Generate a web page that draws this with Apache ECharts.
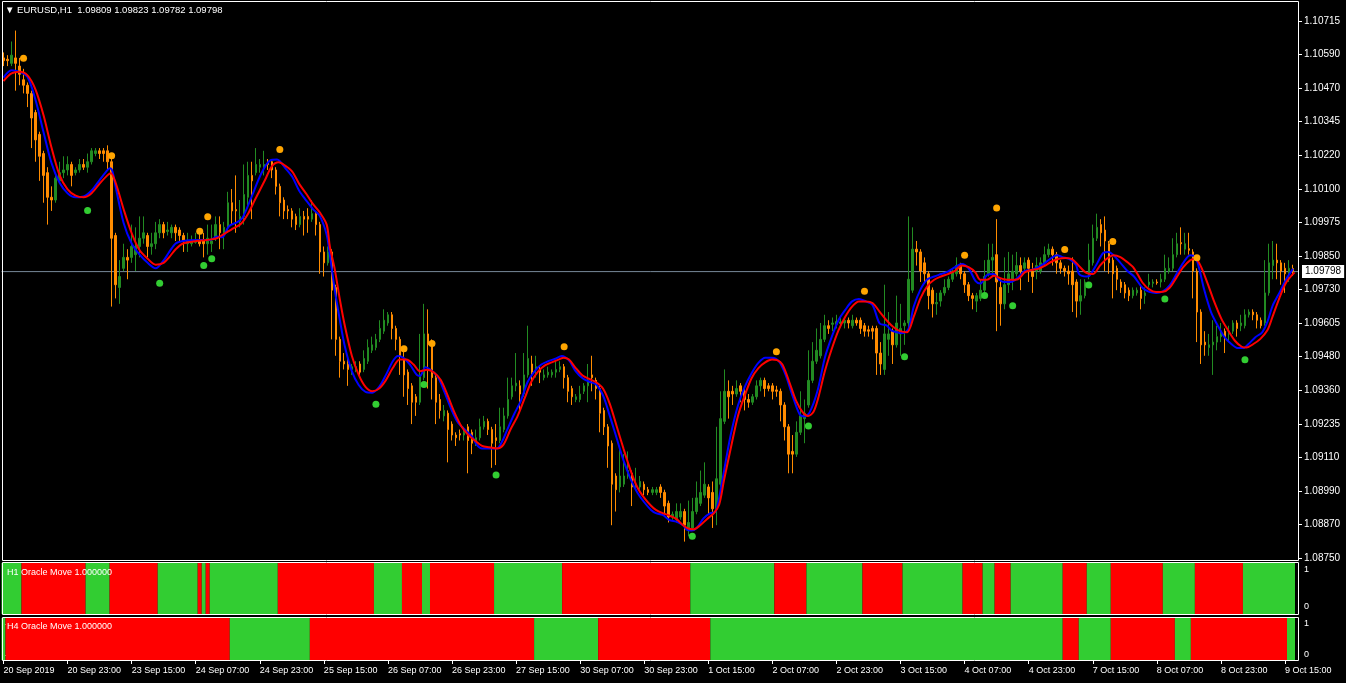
<!DOCTYPE html>
<html><head><meta charset="utf-8">
<script src="https://cdn.jsdelivr.net/npm/echarts@6/dist/echarts.min.js"></script>
<style>html,body{margin:0;padding:0;background:#000;}#c{width:1346px;height:683px;}</style>
</head><body><div id="c"></div>
<script>
const symbolName = 'EURUSD,H1';
const indicatorH1 = 'H1 Oracle Move 1.000000';
const indicatorH4 = 'H4 Oracle Move 1.000000';
const timeLabels = ['20 Sep 2019','20 Sep 23:00','23 Sep 15:00','24 Sep 07:00','24 Sep 23:00','25 Sep 15:00','26 Sep 07:00','26 Sep 23:00','27 Sep 15:00','30 Sep 07:00','30 Sep 23:00','1 Oct 15:00','2 Oct 07:00','2 Oct 23:00','3 Oct 15:00','4 Oct 07:00','4 Oct 23:00','7 Oct 15:00','8 Oct 07:00','8 Oct 23:00','9 Oct 15:00'];
const priceTickLabels = ['1.08750','1.08870','1.08990','1.09110','1.09235','1.09360','1.09480','1.09605','1.09730','1.09850','1.09975','1.10100','1.10220','1.10345','1.10470','1.10590','1.10715'];
const priceMin = 1.08750, priceMax = 1.10715;
const oscTickLabels = ['0','1'];
// [open, high, low, close] per H1 bar
const candles = [
[1.1058,1.1060,1.1055,1.1057],[1.10575,1.1059,1.1055,1.1057],[1.1056,1.1064,1.1055,1.1059],[1.1058,1.1068,1.1046,1.1056],[1.1055,1.1058,1.1048,1.1052],
[1.1050,1.1054,1.1045,1.1048],[1.1048,1.1049,1.1040,1.1045],[1.1045,1.1046,1.1025,1.1036],[1.1038,1.1039,1.1020,1.1028],[1.1030,1.1031,1.1013,1.1022],
[1.1023,1.1024,1.1005,1.1015],[1.1016,1.1018,1.0997,1.1007],[1.1007,1.1011,1.1002,1.1006],[1.1006,1.1016,1.1005,1.1014],[1.1013,1.1020,1.1012,1.1016],
[1.1016,1.1022,1.1014,1.1017],[1.1017,1.1022,1.1015,1.1019],[1.1019,1.1020,1.1011,1.1015],[1.1016,1.1018,1.1015,1.1017],[1.1017,1.1021,1.1016,1.1019],
[1.1019,1.1021,1.1017,1.1018],[1.1018,1.1023,1.1016,1.1020],[1.1020,1.1025,1.1019,1.1024],[1.1023,1.1025,1.1022,1.1024],[1.1024,1.1025,1.1021,1.1023],
[1.1024,1.1025,1.1020,1.1023],[1.1024,1.1026,1.1017,1.1020],[1.1020,1.1021,1.0967,1.0992],[1.0993,1.0994,1.0970,1.0975],[1.0974,1.0984,1.0968,1.0978],
[1.0981,1.0990,1.0980,1.0985],[1.0985,1.0988,1.0977,1.0984],[1.0985,1.0997,1.0983,1.0989],[1.0986,1.0996,1.0980,1.0989],[1.0989,1.1000,1.0985,1.0992],
[1.0992,1.1000,1.0990,1.0994],[1.0993,1.0994,1.0985,1.0989],[1.0989,1.0994,1.0986,1.0990],[1.0990,1.0998,1.0988,1.0994],[1.0994,1.0999,1.0992,1.0997],
[1.0997,1.0998,1.0992,1.0994],[1.09945,1.0998,1.0993,1.0995],[1.0994,1.0997,1.0992,1.0996],[1.0996,1.0997,1.0991,1.0994],[1.0995,1.0996,1.0991,1.0993],
[1.0993,1.0994,1.0987,1.0991],[1.0990,1.0994,1.0987,1.0991],[1.0990,1.0993,1.0989,1.0991],[1.09905,1.0994,1.0990,1.0991],[1.0991,1.0994,1.0989,1.0990],
[1.0991,1.0994,1.0985,1.0990],[1.0990,1.0997,1.0986,1.0992],[1.0990,1.0997,1.0987,1.0991],[1.0992,1.1000,1.0991,1.0997],[1.0997,1.1000,1.0988,1.0994],
[1.0994,1.0998,1.0988,1.0996],[1.0996,1.1009,1.0994,1.1005],[1.1005,1.1010,1.0997,1.1002],[1.10025,1.1015,1.0994,1.1002],[1.0998,1.1006,1.0996,1.1000],
[1.1000,1.1019,1.0997,1.1008],[1.1007,1.1020,1.1003,1.1015],[1.1015,1.1020,1.0999,1.1013],[1.1016,1.1025,1.1015,1.1019],[1.1018,1.1021,1.1016,1.1019],
[1.1018,1.1024,1.1015,1.1019],[1.1020,1.1021,1.1017,1.1019],[1.1020,1.1021,1.1014,1.1017],[1.1017,1.1018,1.1008,1.1011],[1.1011,1.1012,1.1000,1.1005],
[1.1006,1.1007,1.0999,1.1002],[1.10025,1.1004,1.0999,1.1002],[1.1002,1.1003,1.0996,1.0999],[1.1000,1.1001,1.0995,1.0997],[1.0997,1.1003,1.0996,1.1000],
[1.1000,1.1002,1.0993,1.0999],[1.1000,1.1003,1.0994,1.0999],[1.0999,1.1006,1.0998,1.1001],[1.1001,1.1002,1.0993,1.0997],[1.0997,1.0998,1.0979,1.0987],
[1.0987,1.0989,1.0978,1.0983],[1.0983,1.0989,1.0982,1.0987],[1.0987,1.0988,1.0955,1.0973],[1.0974,1.0975,1.0949,1.0955],[1.0955,1.0956,1.0941,1.0947],
[1.0947,1.0950,1.0944,1.0946],[1.0946,1.0949,1.0938,1.0944],[1.0944,1.0946,1.0942,1.0945],[1.0944,1.0947,1.0943,1.0945],[1.0946,1.0947,1.0942,1.0943],
[1.0944,1.0951,1.0943,1.0948],[1.0947,1.0955,1.0946,1.0952],[1.0951,1.0956,1.0950,1.0953],[1.0952,1.0957,1.0951,1.0955],[1.0955,1.0962,1.0954,1.0959],
[1.0958,1.0966,1.0957,1.0962],[1.0961,1.0965,1.0960,1.0964],[1.0964,1.0965,1.0955,1.0959],[1.0959,1.0960,1.0951,1.0955],[1.0955,1.0956,1.0942,1.0949],
[1.0948,1.0952,1.0934,1.0942],[1.0943,1.0944,1.0931,1.0937],[1.0938,1.0939,1.0924,1.0932],[1.0934,1.0935,1.0927,1.0932],[1.0932,1.0957,1.0931,1.0942],
[1.0941,1.0968,1.0940,1.0957],[1.0957,1.0966,1.0937,1.0953],[1.0954,1.0955,1.0933,1.0941],[1.0941,1.0942,1.0924,1.0932],[1.0933,1.0935,1.0926,1.0929],
[1.0927,1.0931,1.0925,1.0929],[1.0928,1.0929,1.0910,1.0922],[1.0924,1.0925,1.0918,1.0920],[1.0920,1.0921,1.0916,1.0919],[1.09205,1.0922,1.0918,1.0920],
[1.0920,1.0923,1.0918,1.0921],[1.0923,1.0924,1.0906,1.0918],[1.0921,1.0922,1.0913,1.0917],[1.0917,1.0922,1.0916,1.0919],[1.0919,1.0926,1.0918,1.0923],
[1.0923,1.0927,1.0922,1.0925],[1.0925,1.0926,1.0920,1.0922],[1.0922,1.0923,1.0908,1.0917],[1.0919,1.0924,1.0909,1.0918],[1.0918,1.0930,1.0917,1.0923],
[1.0922,1.0930,1.0921,1.0927],[1.0927,1.0941,1.0926,1.0933],[1.0934,1.0941,1.0933,1.0938],[1.0938,1.0950,1.0936,1.0939],[1.0938,1.0940,1.0929,1.0935],
[1.0935,1.0950,1.0934,1.0942],[1.0942,1.0960,1.0941,1.0948],[1.0946,1.0949,1.0938,1.0943],[1.0944,1.0949,1.0941,1.0945],[1.0944,1.0945,1.0939,1.0943],
[1.0941,1.0944,1.0940,1.0942],[1.0942,1.0945,1.0941,1.0943],[1.0942,1.0944,1.0941,1.0943],[1.0943,1.0947,1.0941,1.0944],[1.0944,1.0947,1.0943,1.0945],
[1.0945,1.0946,1.0937,1.0941],[1.0941,1.0942,1.0932,1.0936],[1.0937,1.0938,1.0931,1.0934],[1.0933,1.0935,1.0932,1.0934],[1.0933,1.0938,1.0932,1.0935],
[1.0936,1.0939,1.0935,1.0938],[1.0938,1.0946,1.0932,1.0940],[1.0942,1.0949,1.0936,1.0941],[1.0940,1.0941,1.0933,1.0937],[1.0937,1.0938,1.0921,1.0928],
[1.0929,1.0930,1.0920,1.0923],[1.0923,1.0924,1.0908,1.0916],[1.0917,1.0918,1.0887,1.0902],[1.0905,1.0906,1.0892,1.0900],[1.0901,1.0915,1.0899,1.0905],
[1.0902,1.0913,1.0901,1.0905],[1.0905,1.0914,1.0904,1.0907],[1.0906,1.0907,1.0894,1.0901],[1.0901,1.0908,1.0900,1.0902],[1.0901,1.0905,1.0900,1.0903],
[1.0902,1.0903,1.0898,1.0900],[1.0900,1.0901,1.0898,1.0899],[1.0899,1.0901,1.0898,1.0900],[1.0899,1.0901,1.0898,1.0900],[1.0901,1.0902,1.0897,1.0899],
[1.0899,1.0900,1.0891,1.0894],[1.0895,1.0896,1.0888,1.0890],[1.0890,1.0892,1.0889,1.0891],[1.0889,1.0895,1.0888,1.0892],[1.0890,1.0895,1.0889,1.0892],
[1.0892,1.0893,1.0881,1.0887],[1.0885,1.0896,1.0883,1.0888],[1.0886,1.0897,1.0885,1.0892],[1.0892,1.0903,1.0891,1.0897],[1.0895,1.0907,1.0894,1.0899],
[1.0898,1.0910,1.0897,1.0902],[1.0901,1.0902,1.0891,1.0897],[1.0899,1.0903,1.0886,1.0893],[1.0893,1.0923,1.0887,1.0904],[1.0902,1.0936,1.0901,1.0926],
[1.0925,1.0944,1.0924,1.0936],[1.0936,1.0940,1.0926,1.0934],[1.0936,1.0938,1.0931,1.0935],[1.0935,1.0940,1.0934,1.0937],[1.0938,1.0939,1.0932,1.0936],
[1.0936,1.0937,1.0929,1.0933],[1.0933,1.0935,1.0930,1.0932],[1.0932,1.0935,1.0931,1.0934],[1.0934,1.0940,1.0933,1.0938],[1.0938,1.0941,1.0936,1.0940],
[1.0940,1.0941,1.0934,1.0937],[1.0938,1.0939,1.0936,1.0937],[1.0938,1.0939,1.0933,1.0936],[1.09365,1.0938,1.0934,1.0936],[1.0936,1.0937,1.0925,1.0931],
[1.0931,1.0932,1.0918,1.0923],[1.0923,1.0924,1.0906,1.0913],[1.0914,1.0920,1.0906,1.0913],[1.0913,1.0925,1.0912,1.0921],[1.0921,1.0936,1.0920,1.0927],
[1.0926,1.0933,1.0917,1.0928],[1.0931,1.0951,1.0930,1.0940],[1.0940,1.0954,1.0939,1.0947],[1.0947,1.0959,1.0946,1.0951],[1.0949,1.0961,1.0948,1.0955],
[1.0955,1.0964,1.0954,1.0960],[1.0960,1.0962,1.0957,1.0959],[1.09605,1.0963,1.0958,1.0961],[1.09605,1.0964,1.0959,1.09615],[1.09608,1.0963,1.0960,1.09614],
[1.0961,1.0963,1.0959,1.0962],[1.0962,1.0963,1.0959,1.0961],[1.0960,1.0964,1.0959,1.0962],[1.0962,1.0963,1.0960,1.0961],[1.0962,1.0963,1.0957,1.0959],
[1.0960,1.0961,1.0956,1.0958],[1.09585,1.0960,1.0956,1.0958],[1.0959,1.0960,1.0955,1.0958],[1.0959,1.0960,1.0942,1.0950],[1.0950,1.0954,1.0942,1.0946],
[1.0944,1.0975,1.0942,1.0957],[1.0955,1.0965,1.0949,1.0957],[1.0958,1.0959,1.0946,1.0953],[1.0953,1.0971,1.0952,1.0961],[1.0957,1.0968,1.0949,1.0959],
[1.0960,1.0962,1.0953,1.0961],[1.0961,1.1000,1.0959,1.0977],[1.0973,1.0996,1.0972,1.0988],[1.0988,1.0991,1.0982,1.0987],[1.0987,1.0988,1.0976,1.0980],
[1.0983,1.0985,1.0976,1.0979],[1.0979,1.0980,1.0966,1.0971],[1.0973,1.0974,1.0963,1.0968],[1.0968,1.0972,1.0964,1.09685],[1.0969,1.0973,1.0967,1.0972],
[1.0972,1.0977,1.0971,1.0974],[1.0974,1.0978,1.0973,1.0977],[1.0977,1.0981,1.0976,1.0980],[1.0979,1.0985,1.0978,1.0982],[1.0982,1.0983,1.0977,1.0979],
[1.0979,1.0980,1.0972,1.0975],[1.0975,1.0976,1.0969,1.0971],[1.0971,1.0972,1.0966,1.0970],[1.0969,1.0972,1.0965,1.0971],[1.0970,1.0977,1.0969,1.0973],
[1.0973,1.0984,1.0972,1.0978],[1.0979,1.0990,1.0978,1.0984],[1.0984,1.0990,1.0978,1.0985],[1.0986,1.0999,1.0958,1.0976],[1.0974,1.0977,1.0960,1.0968],
[1.0968,1.0985,1.0966,1.0975],[1.0975,1.0987,1.0972,1.0979],[1.0977,1.0986,1.0973,1.0980],[1.0979,1.0987,1.0978,1.0982],[1.0982,1.0985,1.0973,1.0980],
[1.0981,1.0985,1.0980,1.0983],[1.0984,1.0985,1.0976,1.0981],[1.0980,1.0983,1.0972,1.0978],[1.0980,1.0985,1.0977,1.0982],[1.0980,1.0985,1.0979,1.0983],
[1.0983,1.0989,1.0982,1.0986],[1.0986,1.0990,1.0985,1.0988],[1.0988,1.0989,1.0982,1.0986],[1.0986,1.0987,1.0979,1.0983],[1.0983,1.0984,1.0979,1.0981],
[1.0981,1.0982,1.0978,1.0980],[1.0980,1.0982,1.0975,1.0979],[1.0980,1.0985,1.0965,1.0975],[1.0976,1.0977,1.0963,1.0969],[1.0969,1.0977,1.0964,1.0971],
[1.0971,1.0977,1.0970,1.0976],[1.0978,1.0990,1.0977,1.0984],[1.0983,1.0997,1.0982,1.0992],[1.0992,1.1001,1.0991,1.0996],[1.0997,1.0999,1.0989,1.0994],
[1.0995,1.1000,1.0980,1.0991],[1.0990,1.0991,1.0979,1.0983],[1.0984,1.0985,1.0970,1.0979],[1.0981,1.0982,1.0973,1.0977],[1.0976,1.0977,1.0972,1.0974],
[1.0975,1.0976,1.0970,1.0972],[1.0973,1.0974,1.0969,1.0971],[1.0971,1.0974,1.0970,1.0973],[1.0972,1.0974,1.0971,1.0973],[1.0973,1.0975,1.0966,1.0970],
[1.0971,1.0974,1.0968,1.0972],[1.0975,1.0979,1.0974,1.0976],[1.09755,1.0977,1.0974,1.0976],[1.0976,1.0977,1.0975,1.09757],[1.0976,1.0979,1.0974,1.0977],
[1.0977,1.0986,1.0976,1.0981],[1.0980,1.0985,1.0979,1.0981],[1.0981,1.0992,1.0980,1.0986],[1.0986,1.0994,1.0985,1.0990],[1.09904,1.0996,1.0986,1.0990],
[1.0988,1.0994,1.0986,1.0990],[1.09882,1.0994,1.0986,1.09876],[1.0987,1.0988,1.0970,1.0980],[1.0980,1.0981,1.0954,1.0965],[1.0965,1.0966,1.0946,1.0953],
[1.0954,1.0958,1.0949,1.0953],[1.0952,1.0957,1.0949,1.0953],[1.0953,1.0962,1.0942,1.0954],[1.0954,1.0960,1.0951,1.0956],[1.0956,1.0961,1.0954,1.0958],
[1.0958,1.0959,1.0950,1.0956],[1.0957,1.0960,1.0954,1.0958],[1.0958,1.0962,1.0957,1.0961],[1.0961,1.0962,1.0956,1.0959],[1.0960,1.0964,1.0958,1.0961],
[1.0960,1.0966,1.0959,1.0964],[1.0964,1.0966,1.0963,1.0965],[1.0965,1.0966,1.0962,1.0964],[1.0964,1.0965,1.0959,1.0962],[1.0962,1.0963,1.0959,1.0960],
[1.0961,1.0984,1.0960,1.0972],[1.0972,1.0990,1.0971,1.0983],[1.0982,1.0991,1.0977,1.0984],[1.0984,1.0990,1.0977,1.0983],[1.0983,1.0984,1.0975,1.0980],
[1.0981,1.0983,1.0972,1.0979],[1.0979,1.0984,1.0976,1.0981],[1.09809,1.09823,1.09782,1.09798]
];
const blueMA = [[0,1.10508],[2,1.10535],[4,1.10529],[6,1.1051],[8,1.10426],[10,1.10308],[12,1.10195],[14,1.10123],[16,1.10085],[18,1.1007],[20,1.10073],[22,1.10095],[24,1.10133],[26,1.1017],[26.6,1.10176],[27.2,1.10165],[28,1.10108],[30,1.09976],[32,1.09901],[34,1.0986],[36,1.0983],[38,1.0981],[40,1.09839],[41.4,1.0987],[43,1.09901],[44.8,1.0991],[48.2,1.09914],[51.6,1.09914],[53.3,1.09926],[54.6,1.09924],[56.3,1.09964],[58.5,1.0998],[59.7,1.09995],[61.9,1.1007],[64.4,1.10158],[66.6,1.10205],[68.3,1.10208],[70.4,1.10176],[72.1,1.10145],[73.8,1.10095],[75.6,1.10058],[77.3,1.10026],[79,1.10001],[80.7,1.09933],[81.5,1.09858],[82.7,1.09733],[84,1.0962],[85.3,1.0952],[87,1.09433],[88.7,1.09383],[90.4,1.09358],[92.1,1.09355],[93.8,1.09376],[95.5,1.0942],[97.2,1.0947],[98.5,1.09489],[99.8,1.09483],[101.5,1.09458],[103.2,1.0942],[104,1.09416],[105.4,1.09448],[106.6,1.09439],[108.4,1.09414],[110.1,1.09358],[111.8,1.09295],[113.5,1.09245],[115.2,1.0922],[117,1.09195],[118.2,1.09164],[119.5,1.09151],[121.2,1.09151],[123.2,1.09151],[124.5,1.09176],[125.8,1.0922],[127.5,1.09276],[129.2,1.09326],[130.9,1.09395],[132.6,1.09433],[134.3,1.09458],[136,1.0947],[137.8,1.09479],[139.4,1.09489],[141.2,1.09473],[142.9,1.09433],[144.6,1.09408],[146.3,1.09395],[148,1.09385],[149.7,1.09345],[151.4,1.0927],[153.1,1.09189],[154.8,1.09108],[156.6,1.09039],[158.3,1.08989],[160,1.08954],[161.7,1.08926],[162.9,1.08914],[164.6,1.08908],[166.3,1.08889],[168,1.08883],[169.7,1.0887],[170.5,1.08855],[171.8,1.08851],[173.1,1.0886],[174.8,1.08895],[176.5,1.08914],[177.8,1.0892],[179.1,1.09001],[180.4,1.09108],[181.7,1.09208],[183.4,1.09308],[185.1,1.09376],[186.8,1.09426],[188.5,1.09464],[190.2,1.09483],[191.9,1.09483],[193.6,1.0947],[195.3,1.0942],[197,1.09345],[198.8,1.09276],[200,1.09268],[201.3,1.09283],[203.2,1.09358],[205.1,1.09483],[206.8,1.09558],[208.5,1.0962],[210.2,1.09658],[211.9,1.09689],[213.6,1.09698],[215.3,1.09689],[217,1.09676],[218.8,1.09608],[220.5,1.09601],[221.7,1.09583],[223,1.09576],[224.7,1.09573],[226,1.09589],[227.3,1.0967],[229,1.09733],[230.7,1.0977],[232.4,1.0978],[234.1,1.09789],[235.8,1.09798],[237.6,1.09814],[239.3,1.09826],[241,1.0981],[242.7,1.09764],[243.9,1.09754],[245.6,1.09785],[247.3,1.09789],[248.6,1.09768],[249.8,1.0976],[251.5,1.0976],[253.3,1.09776],[255,1.09801],[256.7,1.09804],[258.4,1.09814],[260.1,1.0983],[261.8,1.09849],[263.1,1.09858],[264.4,1.09851],[266.1,1.09845],[267.8,1.09823],[268.6,1.09789],[270.4,1.0978],[271.2,1.09783],[272.9,1.09823],[274.6,1.09866],[275.9,1.0987],[277.2,1.09858],[278.9,1.0983],[280.6,1.09801],[282.3,1.0978],[284.4,1.09739],[286.1,1.09724],[287.8,1.0972],[289.5,1.09726],[291.2,1.09748],[292.9,1.09789],[294.6,1.0983],[296.3,1.09858],[297.6,1.09851],[298.5,1.09814],[299.8,1.09733],[301.5,1.09651],[303.2,1.09601],[304.9,1.09558],[306.6,1.09533],[308.3,1.09518],[309.6,1.09518],[310.9,1.09533],[312.6,1.09558],[314.3,1.09576],[315.6,1.09614],[316.9,1.09673],[318.6,1.0972],[320.3,1.0977],[322,1.09808]];
const redMA = [[0,1.10495],[2,1.10523],[4,1.10529],[6,1.10516],[8,1.10464],[10,1.1037],[12,1.10251],[14,1.10151],[16,1.10099],[18,1.10076],[20,1.1007],[22,1.10085],[24,1.1012],[26,1.10151],[26.8,1.10158],[28,1.10123],[30,1.10026],[32,1.09939],[34,1.09876],[36,1.09845],[38,1.09823],[40,1.0983],[41.4,1.09851],[43,1.0988],[44.8,1.09901],[48.2,1.0991],[50.8,1.09914],[53.3,1.0992],[55,1.09935],[56.8,1.09951],[59.3,1.09973],[61,1.10008],[62.7,1.10058],[65.3,1.10133],[67,1.10183],[68.7,1.10198],[70.4,1.10185],[72.1,1.10164],[73.8,1.1012],[75.6,1.10083],[77.3,1.10045],[79,1.10014],[80.7,1.0997],[81.5,1.09889],[82.7,1.09808],[84,1.09695],[85.3,1.09595],[87,1.09489],[88.7,1.0942],[90.4,1.09376],[92.1,1.0936],[93.8,1.0937],[95.5,1.09401],[97.2,1.09445],[98.9,1.09476],[100.6,1.09476],[102.4,1.09458],[104,1.09433],[105.8,1.09439],[107.5,1.09429],[109.2,1.09401],[110.9,1.09345],[112.6,1.09283],[114.3,1.09233],[116,1.09201],[117.8,1.09179],[119.5,1.0916],[121.2,1.09155],[123.2,1.09151],[124.8,1.09164],[126.6,1.0922],[128.4,1.0927],[130.1,1.09333],[131.8,1.09395],[133.5,1.09433],[135.2,1.09455],[136.9,1.09466],[138.6,1.09476],[139.9,1.09483],[141.2,1.09476],[142.9,1.09445],[144.6,1.09418],[146.3,1.09405],[148,1.09393],[149.7,1.0937],[151.4,1.09314],[153.1,1.09233],[154.8,1.09151],[156.6,1.0907],[158.3,1.09008],[160,1.0897],[161.7,1.08941],[162.9,1.08926],[164.6,1.08914],[166.3,1.08905],[168,1.08893],[169.7,1.0887],[171,1.08858],[172.3,1.08855],[174,1.0887],[175.7,1.08893],[177.4,1.08914],[178.7,1.08945],[179.9,1.09033],[181.7,1.09158],[183.4,1.0927],[185.1,1.09345],[186.8,1.09408],[188.5,1.09445],[190.2,1.09466],[191.9,1.09476],[193.2,1.09474],[194.5,1.09458],[196.2,1.09395],[197.9,1.09326],[199.6,1.09283],[200.9,1.0927],[202.2,1.09283],[203.4,1.09333],[205.1,1.09433],[206.8,1.09514],[208.5,1.09583],[210.2,1.09633],[211.9,1.0967],[213.6,1.09689],[215.3,1.09689],[217,1.09683],[218.8,1.09651],[220.5,1.0962],[222.2,1.09595],[223.9,1.0958],[225.6,1.09576],[227.3,1.09633],[229,1.09701],[230.7,1.09745],[232.4,1.09768],[234.1,1.0978],[235.8,1.09789],[237.6,1.09801],[239.3,1.0982],[241,1.09814],[242.7,1.09795],[243.9,1.09768],[245.6,1.09768],[247.3,1.09783],[248.6,1.09776],[249.8,1.0977],[251.5,1.09768],[253.3,1.0977],[255,1.09795],[256.7,1.09804],[258.4,1.09808],[260.1,1.0982],[261.8,1.09835],[263.5,1.09845],[265.2,1.09848],[266.9,1.09843],[268.6,1.09818],[270.4,1.09793],[272.1,1.09789],[273.8,1.0982],[275.5,1.09845],[277.2,1.09858],[278.9,1.09851],[280.6,1.09833],[282.3,1.0981],[284.4,1.09758],[286.1,1.09733],[287.8,1.09723],[289.5,1.09724],[291.2,1.09739],[292.9,1.09776],[294.6,1.09814],[296.3,1.09839],[297.6,1.09845],[298.9,1.0982],[300.6,1.09758],[302.3,1.09689],[304.1,1.09626],[305.8,1.09583],[307.5,1.09545],[309.2,1.09523],[310.4,1.0952],[312.1,1.09533],[313.8,1.09551],[315.6,1.09583],[316.9,1.09633],[318.6,1.09701],[320.3,1.09758],[322.4,1.09795]];
const sellDots = [[5,1.10579],[27,1.10222],[49,1.09946],[51,1.09999],[69,1.10245],[100,1.09516],[107,1.09535],[140,1.09523],[193,1.09505],[215,1.09726],[240,1.09858],[248,1.10031],[265,1.09879],[277,1.09908],[298,1.09849]];
const buyDots = [[21,1.10022],[39,1.09755],[50,1.0982],[52,1.09845],[93,1.09313],[105,1.09385],[123,1.09054],[172,1.0883],[201,1.09233],[225,1.09486],[245,1.09711],[252,1.09673],[271,1.09749],[290,1.09698],[310,1.09475]];
// [firstBar, lastBar, state(1 = up/green, 0 = down/red)]
const h1Runs = [[0,4,1],[5,20,0],[21,26,1],[27,38,0],[39,48,1],[49,49,0],[50,50,1],[51,51,0],[52,68,1],[69,92,0],[93,99,1],[100,104,0],[105,106,1],[107,122,0],[123,139,1],[140,171,0],[172,192,1],[193,200,0],[201,214,1],[215,224,0],[225,239,1],[240,244,0],[245,247,1],[248,251,0],[252,264,1],[265,270,0],[271,276,1],[277,289,0],[290,297,1],[298,309,0],[310,322,1]];
const h4Runs = [[0,0,1],[1,56,0],[57,76,1],[77,132,0],[133,148,1],[149,176,0],[177,264,1],[265,268,0],[269,276,1],[277,292,0],[293,296,1],[297,320,0],[321,322,1]];

const SLOTS = 324;           // bar slots incl. small right shift
const FONT = "'Liberation Sans', 'DejaVu Sans', sans-serif";
const BULL = '#228B22', BEAR = '#FF8C00';
const OM_GREEN = '#32CD32', OM_RED = '#FF0000';
const last = candles[candles.length - 1];
const lastClose = last[3];

const slotCats = Array.from({length: SLOTS}, (_, i) => String(i));
const timeCats = Array.from({length: SLOTS}, (_, i) => (i % 16 === 0 && timeLabels[i / 16]) ? timeLabels[i / 16] : '');
const every16 = (idx) => idx % 16 === 0 && !!timeLabels[idx / 16];

function runRender(params, api) {
  const s = api.value(0), e = api.value(1), st = api.value(2);
  const a = api.coord([s - 0.5, 1]);
  const b = api.coord([e + 0.5, 0]);
  return {type: 'rect', shape: {x: a[0], y: a[1], width: b[0] - a[0], height: b[1] - a[1]},
          style: {fill: st ? OM_GREEN : OM_RED}};
}
const GL = 1.5, GR = 47;
const txt = (size) => ({color: '#fff', fontSize: size, fontWeight: 'normal', fontFamily: FONT});
const hidX = (g, pos) => ({gridIndex: g, type: 'value', min: -0.5, max: SLOTS - 0.5, show: false, position: pos || 'bottom'});
const labelY = (g, max, fmt, size) => ({gridIndex: g, type: 'value', min: 0, max: max, interval: 1, position: 'right',
  axisLine: {show: false}, splitLine: {show: false},
  axisTick: {show: true, length: 3, lineStyle: {color: '#fff', width: 1}},
  axisLabel: {show: true, margin: 5, formatter: fmt, ...txt(size)}});

const chart = echarts.init(document.getElementById('c'), null, {renderer: 'canvas'});
chart.setOption({
  backgroundColor: '#000',
  animation: false,
  title: [
    {text: '\u25BC ' + symbolName + '  ' + last.map(v => v.toFixed(5)).join(' '), left: 5, top: 5, padding: 0, textStyle: txt(9.5)},
    {text: indicatorH1, left: 7, top: 568, padding: 0, textStyle: txt(9)},
    {text: indicatorH4, left: 7, top: 622, padding: 0, textStyle: txt(9)}
  ],
  grid: [
    {left: GL, right: GR, top: 21, bottom: 125},
    {left: GL, right: GR, top: 563, bottom: 69},
    {left: GL, right: GR, top: 618, bottom: 23},
    {left: GL, right: GR, top: 570, bottom: 76},
    {left: GL, right: GR, top: 624, bottom: 28}
  ],
  xAxis: [
    {gridIndex: 0, type: 'category', data: slotCats, show: false, boundaryGap: true},
    hidX(0, 'top'),
    hidX(1),
    hidX(2, 'top'),
    {gridIndex: 2, type: 'category', data: timeCats, position: 'bottom', boundaryGap: true,
     axisLine: {show: false}, splitLine: {show: false},
     axisTick: {show: true, interval: every16, alignWithLabel: true, length: 4, lineStyle: {color: '#fff'}},
     axisLabel: {show: true, interval: every16, align: 'left', margin: 6, ...txt(9)}},
    hidX(3),
    hidX(4)
  ],
  yAxis: [
    {gridIndex: 0, type: 'value', min: priceMin, max: priceMax, show: false, position: 'left'},
    labelY(0, 16, (v) => priceTickLabels[Math.round(v)] || '', 10),
    {gridIndex: 1, type: 'value', min: 0, max: 1, show: false},
    {gridIndex: 2, type: 'value', min: 0, max: 1, show: false},
    labelY(3, 1, (v) => oscTickLabels[Math.round(v)] || '', 9),
    labelY(4, 1, (v) => oscTickLabels[Math.round(v)] || '', 9)
  ],
  series: [
    {type: 'line', name: 'bid', xAxisIndex: 1, yAxisIndex: 0, z: 1, silent: true, showSymbol: false,
     data: [[-0.5, lastClose], [SLOTS - 0.5, lastClose]],
     lineStyle: {color: '#778899', width: 1},
     endLabel: {show: true, distance: 3, formatter: () => lastClose.toFixed(5), color: '#000',
                backgroundColor: '#fff', padding: [2, 3, 1, 3], fontSize: 10, fontFamily: FONT}},
    {type: 'candlestick', xAxisIndex: 0, yAxisIndex: 0, barWidth: 2, z: 2,
     data: candles.map(r => [r[0], r[3], r[2], r[1]]),
     itemStyle: {color: BULL, color0: BEAR, borderColor: BULL, borderColor0: BEAR, borderWidth: 1}},
    {type: 'line', name: 'blue', xAxisIndex: 1, yAxisIndex: 0, data: blueMA, showSymbol: false, smooth: 0.3,
     lineStyle: {color: '#0000FF', width: 2}, z: 3},
    {type: 'line', name: 'red', xAxisIndex: 1, yAxisIndex: 0, data: redMA, showSymbol: false, smooth: 0.3,
     lineStyle: {color: '#FF0000', width: 2}, z: 3},
    {type: 'scatter', xAxisIndex: 1, yAxisIndex: 0, data: sellDots, symbol: 'circle', symbolSize: 7,
     itemStyle: {color: '#FFA500', opacity: 1}, z: 4},
    {type: 'scatter', xAxisIndex: 1, yAxisIndex: 0, data: buyDots, symbol: 'circle', symbolSize: 7,
     itemStyle: {color: '#32CD32', opacity: 1}, z: 4},
    {type: 'custom', xAxisIndex: 2, yAxisIndex: 2, data: h1Runs, encode: {x: [0, 1], y: 2}, renderItem: runRender},
    {type: 'custom', xAxisIndex: 3, yAxisIndex: 3, data: h4Runs, encode: {x: [0, 1], y: 2}, renderItem: runRender},
    {type: 'line', xAxisIndex: 1, yAxisIndex: 1, data: []},
    {type: 'line', xAxisIndex: 4, yAxisIndex: 3, data: []},
    {type: 'line', xAxisIndex: 5, yAxisIndex: 4, data: []},
    {type: 'line', xAxisIndex: 6, yAxisIndex: 5, data: []}
  ],
  graphic: [
    {type: 'rect', silent: true, z: 100, shape: {x: 2.5, y: 1.5, width: 1296, height: 559}, style: {fill: 'none', stroke: '#fff', lineWidth: 1}},
    {type: 'rect', silent: true, z: 100, shape: {x: 2.5, y: 562.5, width: 1296, height: 52}, style: {fill: 'none', stroke: '#fff', lineWidth: 1}},
    {type: 'rect', silent: true, z: 100, shape: {x: 2.5, y: 617.5, width: 1296, height: 43}, style: {fill: 'none', stroke: '#fff', lineWidth: 1}}
  ]
});
</script>
</body></html>
